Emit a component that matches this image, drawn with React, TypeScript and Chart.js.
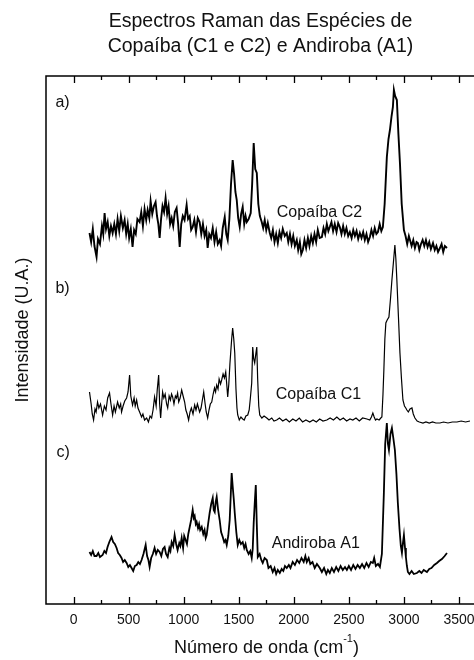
import React, { useEffect, useRef } from "react";
import { Chart, registerables } from "chart.js";

Chart.register(...registerables);

const TITLE_LINES = ["Espectros Raman das Espécies de", "Copaíba (C1 e C2) e Andiroba (A1)"];
const X_TITLE_MAIN = "Número de onda (cm";
const X_TITLE_SUP = "-1";
const X_TITLE_END = ")";
const Y_TITLE = "Intensidade (U.A.)";

const X_MIN = -250;
const X_MAX = 3700;
const Y_MIN = 0;
const Y_MAX = 528;

const X_TICK_LABELS = [0, 500, 1000, 1500, 2000, 2500, 3000, 3500];
const X_MINOR_TICKS = [250, 750, 1250, 1750, 2250, 2750, 3250];

// [wavenumber, intensity] — Copaíba C2 (a)
const C2_SPECTRUM = [
  [145, 31], [160, 22], [175, 35], [190, 18], [209, 7], [222, 25], [240, 20], [258, 38], [270, 30], [282, 51],
  [295, 35], [310, 42], [325, 28], [340, 38], [355, 31], [370, 40], [385, 30], [400, 45], [415, 33], [430, 48],
  [448, 36], [464, 44], [478, 30], [492, 40], [505, 26], [520, 35], [536, 17], [550, 34], [565, 30], [580, 45],
  [600, 42], [615, 52], [630, 38], [645, 55], [660, 44], [673, 54], [688, 46], [700, 63], [715, 50], [730, 58],
  [745, 62], [758, 48], [770, 40], [782, 26], [795, 45], [808, 58], [822, 52], [836, 66], [850, 50], [863, 58],
  [877, 40], [891, 46], [905, 38], [920, 52], [936, 56], [950, 40], [964, 17], [978, 40], [992, 48], [1008, 44],
  [1027, 59], [1040, 45], [1055, 48], [1068, 34], [1082, 37], [1097, 44], [1112, 32], [1128, 46], [1145, 42], [1160, 30],
  [1175, 40], [1190, 28], [1205, 34], [1218, 16], [1232, 30], [1248, 26], [1264, 36], [1280, 22], [1295, 32], [1310, 20],
  [1327, 24], [1340, 18], [1355, 36], [1373, 47], [1387, 30], [1400, 24], [1415, 45], [1430, 80], [1445, 104], [1458, 90],
  [1470, 72], [1482, 64], [1495, 46], [1509, 37], [1522, 50], [1536, 57], [1550, 40], [1562, 48], [1573, 42], [1590, 45],
  [1609, 51], [1622, 80], [1636, 121], [1650, 95], [1664, 91], [1678, 60], [1692, 48], [1709, 42], [1722, 36], [1736, 44],
  [1750, 34], [1764, 41], [1782, 31], [1795, 26], [1810, 34], [1825, 22], [1840, 30], [1855, 21], [1870, 32], [1885, 26],
  [1900, 35], [1918, 28], [1936, 31], [1950, 22], [1965, 30], [1980, 20], [1995, 28], [2010, 18], [2027, 24], [2040, 14],
  [2055, 22], [2068, 10], [2082, 14], [2097, 24], [2112, 16], [2128, 26], [2142, 18], [2158, 28], [2173, 21], [2188, 30],
  [2203, 22], [2218, 34], [2235, 26], [2255, 27], [2270, 36], [2285, 30], [2300, 40], [2314, 33], [2327, 37], [2342, 42],
  [2357, 33], [2372, 40], [2388, 32], [2403, 41], [2418, 37], [2433, 30], [2448, 38], [2463, 30], [2478, 36], [2494, 28],
  [2509, 32], [2525, 26], [2540, 34], [2555, 28], [2570, 33], [2585, 25], [2600, 31], [2615, 26], [2630, 32], [2645, 24],
  [2660, 30], [2675, 22], [2691, 27], [2705, 34], [2720, 28], [2735, 36], [2750, 30], [2764, 32], [2780, 40], [2795, 33],
  [2809, 37], [2825, 60], [2845, 107], [2860, 125], [2873, 134], [2888, 148], [2900, 157], [2909, 174], [2920, 168], [2936, 164],
  [2950, 130], [2964, 101], [2980, 60], [3000, 34], [3015, 28], [3030, 20], [3045, 28], [3055, 24], [3070, 18], [3085, 24],
  [3100, 16], [3115, 22], [3127, 21], [3140, 14], [3155, 20], [3170, 24], [3185, 18], [3200, 24], [3215, 17], [3230, 22],
  [3245, 15], [3264, 21], [3280, 14], [3295, 18], [3310, 12], [3327, 16], [3342, 20], [3357, 12], [3372, 18], [3391, 16],
];
const C2_OFFSET = 340;

// [wavenumber, intensity] — Copaíba C1 (b)
const C1_SPECTRUM = [
  [145, 42], [160, 30], [170, 20], [182, 14], [195, 25], [205, 22], [218, 32], [230, 26], [245, 30], [264, 19],
  [280, 28], [295, 24], [310, 36], [327, 41], [340, 30], [355, 19], [368, 28], [380, 22], [400, 32], [415, 26],
  [428, 30], [436, 22], [450, 28], [465, 33], [482, 36], [495, 42], [509, 59], [520, 38], [536, 29], [550, 36],
  [560, 28], [573, 34], [585, 26], [600, 22], [618, 17], [630, 20], [645, 14], [664, 16], [680, 12], [695, 18],
  [709, 16], [722, 24], [736, 37], [750, 28], [760, 44], [773, 59], [782, 30], [791, 16], [800, 30], [809, 42],
  [820, 36], [832, 40], [845, 30], [855, 26], [868, 38], [880, 34], [890, 40], [900, 37], [912, 30], [925, 38],
  [935, 36], [945, 41], [955, 32], [968, 36], [982, 44], [995, 38], [1009, 32], [1020, 24], [1032, 20], [1045, 14],
  [1058, 22], [1070, 26], [1085, 20], [1100, 29], [1112, 24], [1125, 30], [1145, 22], [1158, 26], [1170, 34], [1182, 42],
  [1195, 30], [1205, 22], [1218, 16], [1230, 24], [1242, 30], [1255, 32], [1268, 40], [1280, 46], [1290, 42], [1300, 49],
  [1312, 45], [1322, 55], [1335, 50], [1345, 54], [1358, 60], [1370, 56], [1382, 62], [1391, 50], [1400, 37], [1410, 50],
  [1420, 70], [1427, 81], [1436, 95], [1445, 106], [1455, 95], [1464, 81], [1475, 45], [1484, 26], [1491, 19], [1505, 14],
  [1520, 17], [1536, 15], [1550, 14], [1565, 18], [1582, 19], [1595, 24], [1605, 35], [1618, 51], [1627, 87], [1636, 75],
  [1645, 71], [1655, 80], [1664, 87], [1672, 55], [1682, 28], [1691, 19], [1710, 16], [1730, 18], [1755, 16], [1775, 14],
  [1800, 16], [1820, 13], [1845, 14], [1870, 16], [1900, 13], [1930, 15], [1960, 12], [1991, 15], [2020, 13], [2050, 16],
  [2080, 12], [2110, 14], [2145, 12], [2175, 14], [2205, 12], [2235, 15], [2265, 13], [2300, 14], [2330, 16], [2360, 14],
  [2391, 17], [2420, 14], [2450, 16], [2480, 13], [2510, 15], [2536, 14], [2565, 16], [2595, 13], [2625, 16], [2664, 15],
  [2690, 14], [2705, 17], [2718, 21], [2730, 17], [2742, 14], [2755, 15], [2775, 14], [2790, 16], [2800, 17], [2810, 40],
  [2818, 64], [2827, 95], [2836, 111], [2848, 114], [2864, 117], [2878, 135], [2891, 154], [2905, 172], [2918, 189], [2927, 175],
  [2936, 154], [2950, 118], [2964, 81], [2978, 55], [2991, 34], [3005, 28], [3017, 26], [3027, 24], [3040, 22], [3055, 25],
  [3073, 26], [3085, 20], [3100, 16], [3120, 13], [3140, 12], [3173, 11], [3200, 12], [3230, 11], [3260, 12], [3290, 11],
  [3327, 11], [3360, 12], [3400, 11], [3440, 12], [3482, 12], [3520, 13], [3560, 12], [3600, 13],
];
const C1_OFFSET = 170;

// [wavenumber, intensity] — Andiroba A1 (c)
const A1_SPECTRUM = [
  [145, 32], [160, 29], [175, 33], [190, 28], [209, 28], [225, 31], [240, 27], [264, 29], [280, 33], [295, 31],
  [309, 37], [325, 42], [345, 47], [360, 42], [375, 40], [391, 36], [405, 31], [420, 29], [436, 26], [450, 22],
  [465, 24], [482, 21], [497, 17], [512, 19], [527, 16], [542, 13], [557, 18], [573, 19], [588, 22], [603, 20],
  [618, 24], [635, 30], [655, 39], [668, 28], [680, 24], [691, 17], [705, 26], [720, 30], [736, 36], [750, 30],
  [765, 34], [782, 32], [797, 28], [812, 35], [827, 37], [840, 30], [855, 27], [870, 36], [880, 33], [891, 42],
  [905, 38], [918, 49], [932, 40], [945, 34], [960, 41], [970, 38], [982, 46], [995, 36], [1005, 48], [1018, 44],
  [1030, 40], [1042, 50], [1055, 57], [1068, 64], [1082, 74], [1092, 66], [1100, 68], [1110, 60], [1118, 62], [1130, 56],
  [1140, 60], [1150, 54], [1164, 57], [1178, 50], [1190, 54], [1200, 46], [1209, 49], [1222, 60], [1236, 71], [1250, 80],
  [1264, 86], [1273, 74], [1282, 72], [1291, 82], [1300, 87], [1313, 74], [1327, 64], [1340, 52], [1355, 47], [1368, 42],
  [1380, 44], [1391, 39], [1405, 48], [1418, 64], [1428, 90], [1436, 111], [1445, 98], [1455, 85], [1464, 71], [1478, 52],
  [1491, 39], [1505, 44], [1520, 40], [1536, 42], [1550, 36], [1562, 40], [1573, 34], [1590, 30], [1605, 33], [1618, 26],
  [1627, 35], [1636, 61], [1645, 80], [1655, 99], [1664, 60], [1673, 27], [1690, 30], [1705, 24], [1718, 21], [1735, 26],
  [1755, 24], [1770, 16], [1790, 18], [1809, 12], [1825, 16], [1840, 10], [1855, 14], [1873, 11], [1890, 15], [1905, 13],
  [1920, 18], [1936, 16], [1955, 19], [1970, 16], [1990, 22], [2010, 19], [2030, 24], [2050, 21], [2070, 26], [2090, 22],
  [2105, 28], [2118, 22], [2135, 26], [2150, 20], [2170, 22], [2190, 16], [2210, 20], [2236, 16], [2255, 12], [2275, 16],
  [2295, 10], [2310, 14], [2327, 11], [2345, 16], [2365, 12], [2385, 17], [2405, 13], [2425, 18], [2445, 14], [2465, 17],
  [2482, 14], [2500, 18], [2520, 14], [2540, 19], [2560, 15], [2580, 19], [2600, 16], [2620, 20], [2640, 16], [2660, 21],
  [2680, 17], [2700, 22], [2718, 21], [2730, 26], [2745, 18], [2765, 20], [2782, 17], [2800, 30], [2818, 91], [2830, 140],
  [2845, 161], [2855, 140], [2864, 134], [2878, 150], [2891, 156], [2905, 145], [2918, 134], [2932, 110], [2945, 81], [2960, 55],
  [2972, 38], [2982, 31], [2990, 40], [3000, 49], [3010, 36], [3018, 27], [3027, 18], [3036, 12], [3050, 10], [3070, 13],
  [3090, 10], [3118, 11], [3140, 13], [3160, 11], [3180, 14], [3209, 12], [3230, 15], [3250, 16], [3275, 19], [3300, 21],
  [3320, 23], [3345, 25], [3370, 28], [3391, 31],
];
const A1_OFFSET = 20;

const LABEL_TEXTS = ["a)", "b)", "c)", "Copaíba C2", "Copaíba C1", "Andiroba A1"];
const LABEL_X = [-164, -164, -155, 1845, 1836, 1800];
const LABEL_Y = [501, 315, 151, 391, 209, 60];

const FONT = '"Liberation Sans", Arial, Helvetica, sans-serif';
const TEXT_COLOR = "#111";

function toPoints(spec: number[][], offset: number) {
  return spec.map(([x, y]) => ({ x, y: y + offset }));
}

const decorPlugin = {
  id: "decor",
  afterDatasetsDraw(chart: any) {
    const { ctx, chartArea: a, scales } = chart;
    const xs = scales.x;
    const ys = scales.y;
    ctx.save();
    ctx.strokeStyle = "#000";
    ctx.lineWidth = 1.5;
    ctx.strokeRect(a.left, a.top, a.right - a.left, a.bottom - a.top);
    ctx.lineWidth = 1.3;
    const drawTick = (v: number, len: number) => {
      const px = Math.round(xs.getPixelForValue(v)) + 0.5;
      ctx.beginPath();
      ctx.moveTo(px, a.bottom);
      ctx.lineTo(px, a.bottom - len);
      ctx.moveTo(px, a.top);
      ctx.lineTo(px, a.top + len);
      ctx.stroke();
    };
    X_TICK_LABELS.forEach((v) => drawTick(v, 7));
    X_MINOR_TICKS.forEach((v) => drawTick(v, 4));

    ctx.fillStyle = TEXT_COLOR;
    ctx.textBaseline = "middle";
    ctx.textAlign = "left";
    ctx.font = `16px ${FONT}`;
    LABEL_TEXTS.forEach((t, i) => {
      ctx.fillText(t, xs.getPixelForValue(LABEL_X[i]), ys.getPixelForValue(LABEL_Y[i]));
    });

    ctx.textAlign = "center";
    ctx.font = `19.5px ${FONT}`;
    const cx = (a.left + a.right) / 2 - 3;
    ctx.fillText(TITLE_LINES[0], cx, 22);
    ctx.fillText(TITLE_LINES[1], cx, 47);

    ctx.font = `18px ${FONT}`;
    const wMain = ctx.measureText(X_TITLE_MAIN).width;
    const wEnd = ctx.measureText(X_TITLE_END).width;
    ctx.font = `11px ${FONT}`;
    const wSup = ctx.measureText(X_TITLE_SUP).width;
    const total = wMain + wSup + wEnd;
    let sx = (a.left + a.right) / 2 + 3 - total / 2;
    ctx.textAlign = "left";
    ctx.font = `18px ${FONT}`;
    ctx.fillText(X_TITLE_MAIN, sx, 648);
    sx += wMain;
    ctx.font = `11px ${FONT}`;
    ctx.fillText(X_TITLE_SUP, sx, 639);
    sx += wSup;
    ctx.font = `18px ${FONT}`;
    ctx.fillText(X_TITLE_END, sx, 648);

    ctx.save();
    ctx.translate(23, (a.top + a.bottom) / 2 - 10);
    ctx.rotate(-Math.PI / 2);
    ctx.textAlign = "center";
    ctx.font = `18px ${FONT}`;
    ctx.fillText(Y_TITLE, 0, 0);
    ctx.restore();

    ctx.restore();
  },
};

export default function App() {
  const ref = useRef<HTMLCanvasElement | null>(null);
  useEffect(() => {
    if (!ref.current) return;
    const line = (data: any[], w: number) => ({
      data,
      borderColor: "#000",
      borderWidth: w,
      pointRadius: 0,
      tension: 0,
      fill: false,
    });
    const chart = new Chart(ref.current, {
      type: "line",
      data: {
        datasets: [
          { label: "Copaíba C2", ...line(toPoints(C2_SPECTRUM, C2_OFFSET), 1.9) },
          { label: "Copaíba C1", ...line(toPoints(C1_SPECTRUM, C1_OFFSET), 1.2) },
          { label: "Andiroba A1", ...line(toPoints(A1_SPECTRUM, A1_OFFSET), 1.8) },
        ],
      },
      options: {
        responsive: false,
        animation: false,
        devicePixelRatio: 1,
        layout: { padding: { left: 46, top: 76, right: 9, bottom: 24.2 } },
        plugins: { legend: { display: false }, tooltip: { enabled: false }, title: { display: false } },
        scales: {
          x: {
            type: "linear",
            min: X_MIN,
            max: X_MAX,
            afterBuildTicks: (scale: any) => {
              scale.ticks = X_TICK_LABELS.map((v) => ({ value: v }));
            },
            grid: { display: false, drawTicks: false },
            border: { display: false },
            ticks: {
              autoSkip: false,
              maxRotation: 0,
              padding: 7.5,
              color: TEXT_COLOR,
              font: { family: FONT, size: 14 },
              callback: (v: any) => String(v),
            },
          },
          y: {
            display: false,
            min: Y_MIN,
            max: Y_MAX,
          },
        },
      },
      plugins: [decorPlugin],
    });
    return () => chart.destroy();
  }, []);
  return (
    <div style={{ position: "absolute", left: 0, top: 0, width: 474, height: 660, overflow: "hidden", background: "#fff" }}>
      <canvas ref={ref} width={490} height={660} style={{ display: "block", width: 490, height: 660 }} />
    </div>
  );
}
